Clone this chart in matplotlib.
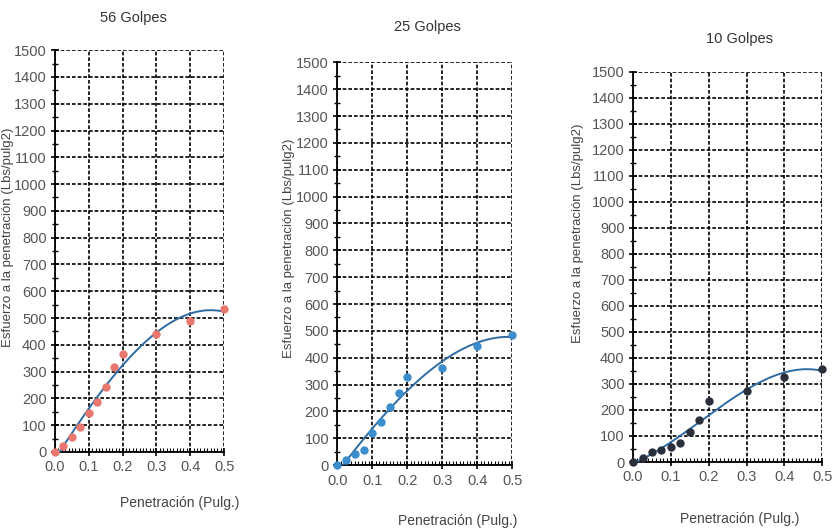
# -*- coding: utf-8 -*-
"""
Curvas esfuerzo-penetración (CBR) para 56, 25 y 10 golpes
"""

import numpy as np
import matplotlib
matplotlib.use('Agg')
import matplotlib.pyplot as plt
from matplotlib.ticker import MultipleLocator, FormatStrFormatter

plt.rcParams['font.family'] = ['Liberation Sans', 'DejaVu Sans']

# Datos
penetracion = [0.0, 0.025, 0.05, 0.075, 0.1, 0.125, 0.15, 0.175, 0.2, 0.3, 0.4, 0.5]
esfuerzo_56 = [0, 22, 56, 94, 146, 186, 242, 316, 366, 441, 490, 535]
esfuerzo_25 = [0, 20, 43, 58, 118, 160, 218, 270, 330, 362, 442, 486]
esfuerzo_10 = [0, 17, 40, 46, 59, 72, 115, 162, 233, 273, 326, 358]

titulos = ["56 Golpes", "25 Golpes", "10 Golpes"]
colores = ["#E8776F", "#3C8DCC", "#2A2F3B"]
COLOR_CURVA = "#2F6BA3"

# [left, bottom, width, height] en fracción de figura
posiciones = [
    [0.066, 0.144, 0.203, 0.761],
    [0.405, 0.119, 0.210, 0.763],
    [0.760, 0.125, 0.227, 0.739],
]
titulo_xy = [(0.160, 0.966), (0.513, 0.949), (0.888, 0.926)]
xlabel_xy = [(0.74, -0.109), (0.69, -0.12), (0.566, -0.128)]
ylabel_xy = [(-0.275, 0.535), (-0.276, 0.538), (-0.29, 0.587)]

fig = plt.figure(figsize=(8.33, 5.28), dpi=100)

series = [esfuerzo_56, esfuerzo_25, esfuerzo_10]
for i, valores in enumerate(series):
    ax = fig.add_axes(posiciones[i])
    x = np.array(penetracion)
    y = np.array(valores)

    # Línea de tendencia polinómica (grado 3)
    coef = np.polyfit(x, y, 3)
    xs = np.linspace(0, 0.5, 200)
    ax.plot(xs, np.polyval(coef, xs), color=COLOR_CURVA, linewidth=1.4, zorder=3)

    ax.plot(x, y, 'o', color=colores[i], markersize=5, zorder=4, clip_on=False)

    ax.set_xlim(0, 0.5)
    ax.set_ylim(0, 1500)
    ax.xaxis.set_major_locator(MultipleLocator(0.1))
    ax.xaxis.set_minor_locator(MultipleLocator(0.01))
    ax.yaxis.set_major_locator(MultipleLocator(100))
    ax.yaxis.set_minor_locator(MultipleLocator(50))
    ax.xaxis.set_major_formatter(FormatStrFormatter('%.1f'))

    # Cuadrícula punteada
    ax.grid(True, which='major', color='black', linestyle=(0, (2.2, 1.2)), linewidth=1.2)
    ax.set_axisbelow(True)

    ax.spines['top'].set_visible(False)
    ax.spines['right'].set_visible(False)
    ax.spines['left'].set_linewidth(1.3)
    ax.spines['bottom'].set_linewidth(1.3)

    ax.tick_params(which='major', direction='inout', length=6, width=1.2,
                   labelsize=10.5, labelcolor='#555555', pad=3)
    ax.tick_params(axis='y', which='minor', direction='inout', length=4, width=1.0)
    ax.tick_params(axis='x', which='minor', direction='in', length=3, width=0.8)

    fig.text(titulo_xy[i][0], titulo_xy[i][1], titulos[i], ha='center', va='center',
             fontsize=10.5, color='#333333')

    ax.set_xlabel("Penetración (Pulg.)", fontsize=10, color='#444444')
    ax.xaxis.set_label_coords(*xlabel_xy[i])
    ax.set_ylabel("Esfuerzo a la penetración (Lbs/pulg2)", fontsize=9.5, color='#444444',
                  va='center')
    ax.yaxis.set_label_coords(*ylabel_xy[i])

plt.savefig('out.png', dpi=100, facecolor='white')
plt.close()
